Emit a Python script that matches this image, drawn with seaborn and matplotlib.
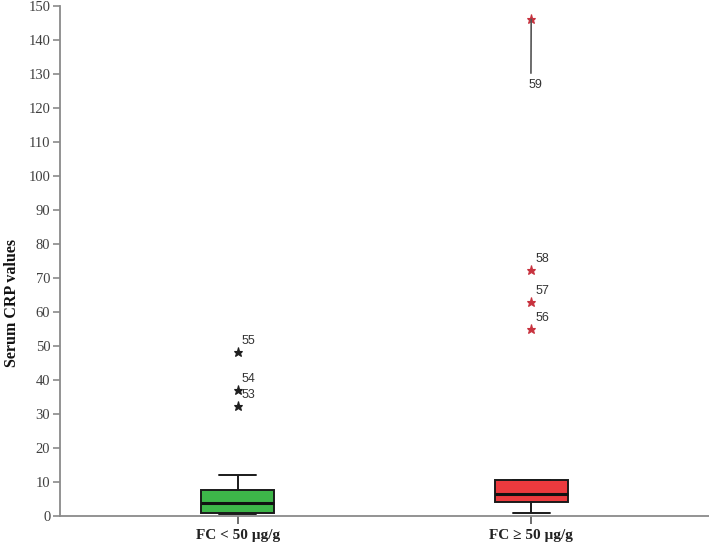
import numpy as np
import pandas as pd
import matplotlib
matplotlib.use("Agg")
import matplotlib.pyplot as plt
import seaborn as sns

# ---- data ----
categories = ["FC < 50 µg/g", "FC ≥ 50 µg/g"]
# values chosen so quartiles / whiskers / extremes match the picture
green_values = [0.7, 0.7, 0.75, 0.8, 0.8, 1.5, 2.4, 3.0, 3.7, 4.5, 5.5, 6.6, 7.65, 12.1, 32.4, 37.1, 48.2]
red_values = [1.0, 2.0, 3.0, 3.5, 4.0, 4.8, 5.5, 6.0, 6.5, 7.5, 8.5, 9.5, 10.6, 54.9, 62.9, 72.4, 146.1]
green_outlier_ids = ["53", "54", "55"]
red_outlier_ids = ["56", "57", "58", "59"]
y_ticks = list(range(0, 151, 10))

box_colors = ["#3db649", "#ec3a3e"]
flier_colors = ["#1e1e1e", "#c8323e"]

df = pd.DataFrame({
    "group": [categories[0]] * len(green_values) + [categories[1]] * len(red_values),
    "crp": green_values + red_values,
})

sns.set_style("white")
plt.rcParams["font.family"] = ["Liberation Serif", "DejaVu Serif"]

W, H = 709, 546
fig = plt.figure(figsize=(W / 100, H / 100), dpi=100)
ax = fig.add_axes([60 / W, 30 / H, 649 / W, 510 / H])

sns.boxplot(
    data=df, x="group", y="crp", hue="group",
    order=categories, hue_order=categories,
    palette=box_colors, saturation=1, width=0.25, dodge=False,
    linewidth=1.4, linecolor="#1a1a1a", whis=1.5,
    medianprops=dict(linewidth=2.2, color="#111111"),
    flierprops=dict(marker="*", markersize=6.5, markeredgewidth=0.8),
    legend=False, ax=ax,
)

ax.set_ylim(0, 150)
ax.set_xlim(-0.606, 1.606)
ax.set_yticks(y_ticks)

ids = [green_outlier_ids, red_outlier_ids]
label_font = dict(family=["Liberation Sans", "DejaVu Sans"], fontsize=9, color="#333333")

pts = []
for cont in ax.containers:
    fl = getattr(cont, "fliers", None)
    if fl is None:
        continue
    for line in fl:
        xy = line.get_xydata()
        if len(xy) == 0:
            continue
        gi = int(round(xy[0, 0]))
        line.set_color(flier_colors[gi])
        line.set_markerfacecolor(flier_colors[gi])
        line.set_markeredgecolor(flier_colors[gi])
        order = np.argsort(xy[:, 1])
        for k, j in enumerate(order):
            pts.append((gi, xy[j, 0], xy[j, 1], ids[gi][k]))

for gi, x, y, lab in pts:
    if lab == "59":
        ax.annotate(lab, xy=(x, y), xytext=(-2.2, -47.5), textcoords="offset points",
                    ha="left", va="center", **label_font,
                    arrowprops=dict(arrowstyle="-", color="#555555", lw=1.2,
                                    relpos=(0.2, 1.0), shrinkA=2, shrinkB=0))
    else:
        ax.annotate(lab, xy=(x, y), xytext=(3, 8), textcoords="offset points",
                    ha="left", va="center", **label_font)

for s in ["top", "right"]:
    ax.spines[s].set_visible(False)
for s in ["left", "bottom"]:
    ax.spines[s].set_color("#8a8a8a")
    ax.spines[s].set_linewidth(1.3)

ax.tick_params(axis="y", length=5, width=1.2, color="#8a8a8a", direction="out",
               labelsize=10.5, labelcolor="#404040", pad=2, left=True)
ax.tick_params(axis="x", length=6, width=1.2, color="#555555", direction="out",
               labelsize=11, labelcolor="#222222", pad=3, bottom=True)
for t in ax.get_xticklabels():
    t.set_fontweight("bold")

ax.set_xlabel("")
ax.set_ylabel("Serum CRP values", fontsize=11.5, fontweight="bold", color="#111111")
ax.yaxis.set_label_coords(-0.062, 0.418)

fig.savefig("out.png", dpi=100)
